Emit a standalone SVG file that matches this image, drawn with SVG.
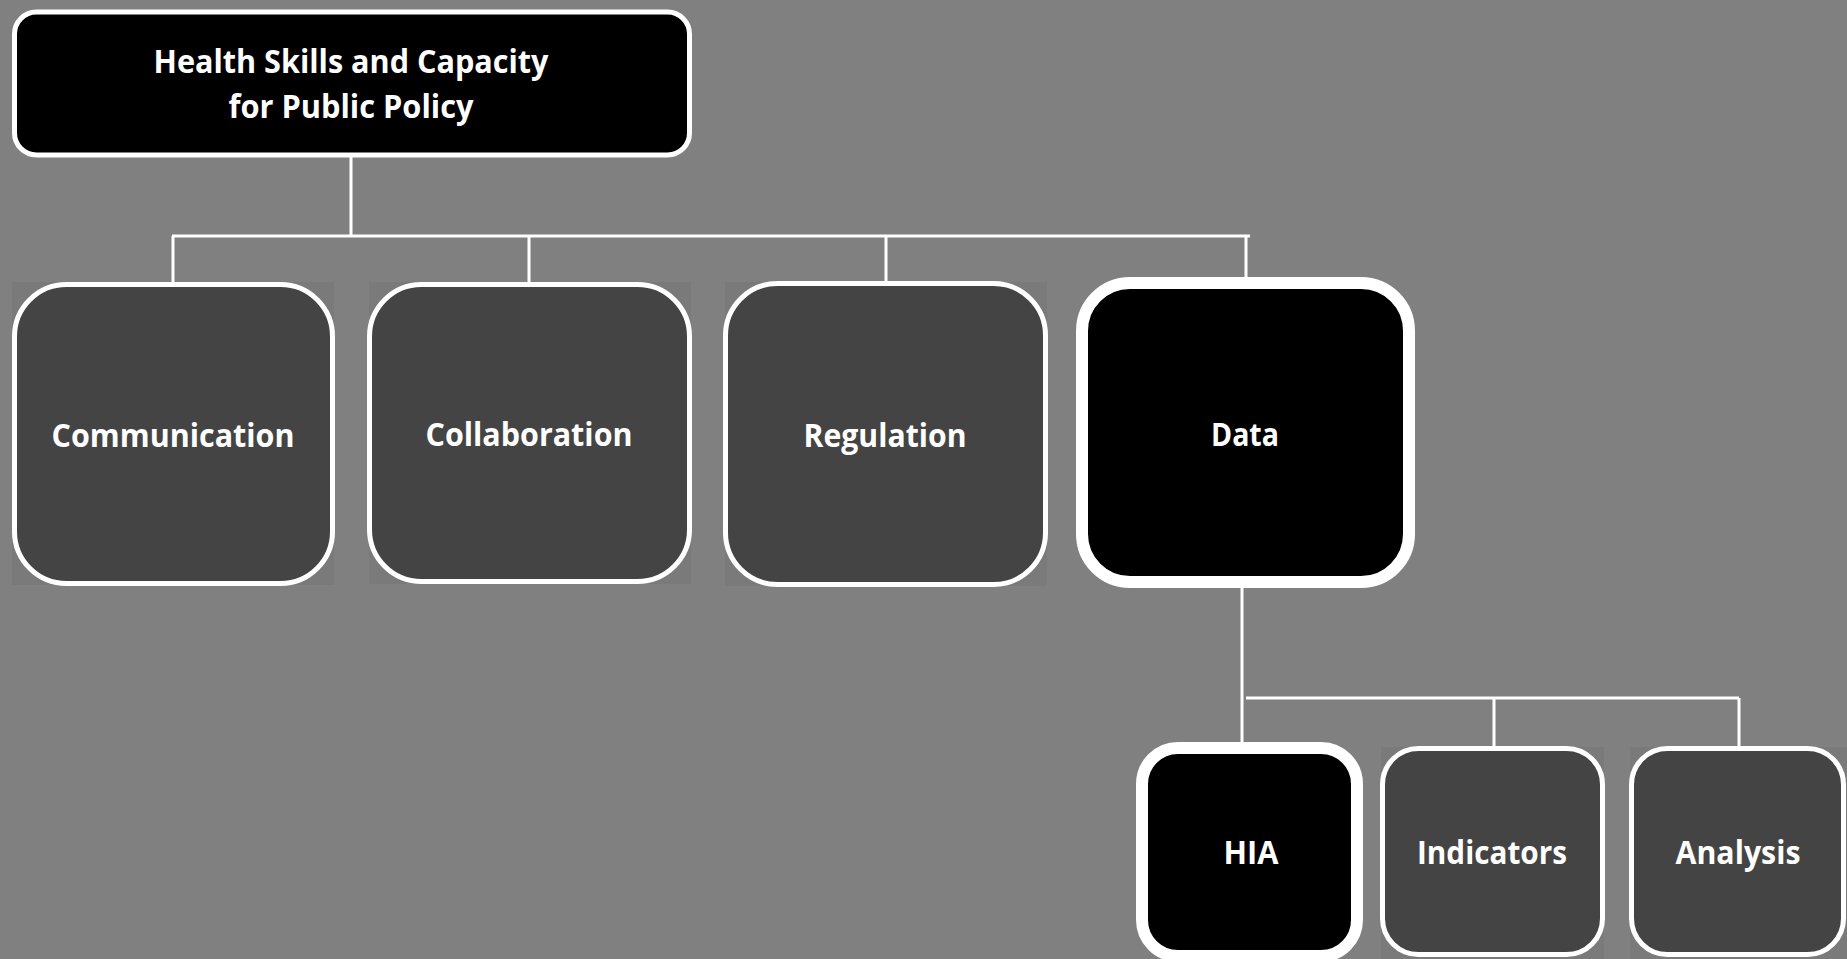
<svg xmlns="http://www.w3.org/2000/svg" width="1847" height="959" viewBox="0 0 1847 959">
<style>
.bg{fill:#7a7a7a}
.n{fill:#444444;stroke:#ffffff;stroke-width:5}
.k{fill:#000000;stroke:#ffffff;stroke-width:12}
.t{fill:#ffffff;font-family:"Open Sans","Liberation Sans",sans-serif;font-weight:bold;font-size:32px;text-anchor:middle}
.c{fill:none;stroke:#ffffff;stroke-width:3}
</style>
<rect width="1847" height="959" fill="#808080"/>
<g id="connectors">
<path class="c" d="M351,157 V236 M172,236 H1250 M173,236 V284 M529,236 V284 M886,236 V283 M1246,236 V277"/>
<path class="c" d="M1242,588 V742"/>
<path class="c" stroke-width="2.5" d="M1246,698 H1739 M1494,698 V746 M1739,698 V746"/>
</g>
<g id="root">
<rect x="14.5" y="12" width="675" height="143" rx="22" fill="#000" stroke="#fff" stroke-width="5"/>
<text class="t" x="351" y="73" font-size="30" textLength="395" lengthAdjust="spacingAndGlyphs">Health Skills and Capacity</text>
<text class="t" x="351" y="118" font-size="30" textLength="245" lengthAdjust="spacingAndGlyphs">for Public Policy</text>
</g>
<g id="communication">
<rect class="bg" x="12" y="282" width="322" height="303"/>
<rect class="n" x="14.5" y="284.5" width="318" height="299" rx="52"/>
<text class="t" x="173" y="447" textLength="243" lengthAdjust="spacingAndGlyphs">Communication</text>
</g>
<g id="collaboration">
<rect class="bg" x="369" y="282" width="322" height="302"/>
<rect class="n" x="369.5" y="284.5" width="320" height="297" rx="52"/>
<text class="t" x="529" y="446" textLength="207" lengthAdjust="spacingAndGlyphs">Collaboration</text>
</g>
<g id="regulation">
<rect class="bg" x="725" y="282" width="322" height="304"/>
<rect class="n" x="725.5" y="283.5" width="320" height="301" rx="52"/>
<text class="t" x="885" y="447" textLength="163" lengthAdjust="spacingAndGlyphs">Regulation</text>
</g>
<g id="data">
<rect class="k" x="1082" y="283" width="327" height="299" rx="48"/>
<text class="t" x="1245" y="446" textLength="68" lengthAdjust="spacingAndGlyphs">Data</text>
</g>
<g id="hia">
<rect class="k" x="1142" y="748" width="215" height="208" rx="36"/>
<text class="t" x="1251" y="864" textLength="55" lengthAdjust="spacingAndGlyphs">HIA</text>
</g>
<g id="indicators">
<rect class="bg" x="1381" y="747" width="223" height="212"/>
<rect class="n" x="1382.5" y="748.5" width="220" height="206" rx="36"/>
<text class="t" x="1492" y="864" textLength="150" lengthAdjust="spacingAndGlyphs">Indicators</text>
</g>
<g id="analysis">
<rect class="bg" x="1630" y="747" width="217" height="212"/>
<rect class="n" x="1631.5" y="748.5" width="212" height="206" rx="36"/>
<text class="t" x="1738" y="864" textLength="125" lengthAdjust="spacingAndGlyphs">Analysis</text>
</g>
</svg>
